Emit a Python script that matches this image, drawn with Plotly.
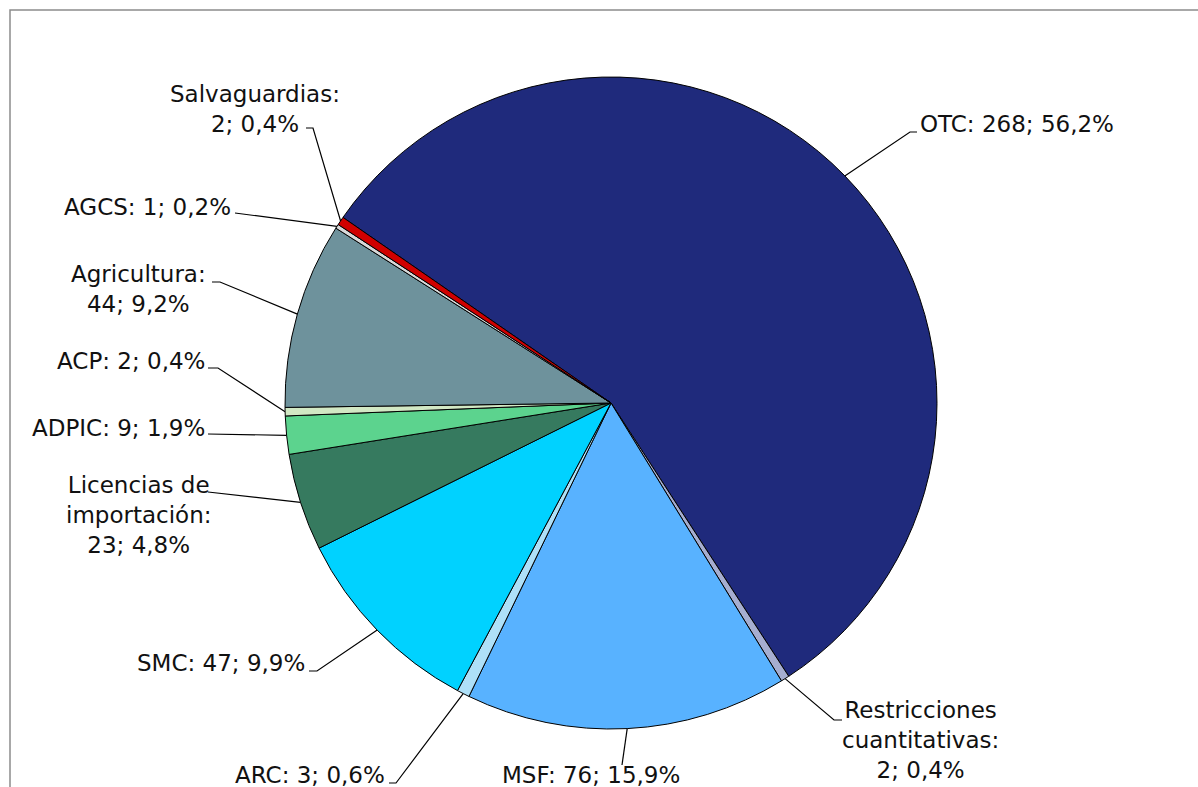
import math
import plotly.graph_objects as go

# ---- data ----
categories = ["OTC", "Restricciones cuantitativas", "MSF", "ARC", "SMC",
              "Licencias de importación", "ADPIC", "ACP", "Agricultura",
              "AGCS", "Salvaguardias"]
values = [268, 2, 76, 3, 47, 23, 9, 2, 44, 1, 2]
label_texts = ["OTC: 268; 56,2%",
               "Restricciones<br>cuantitativas:<br>2; 0,4%",
               "MSF: 76; 15,9%",
               "ARC: 3; 0,6%",
               "SMC: 47; 9,9%",
               "Licencias de<br>importación:<br>23; 4,8%",
               "ADPIC: 9; 1,9%",
               "ACP: 2; 0,4%",
               "Agricultura:<br>44; 9,2%",
               "AGCS: 1; 0,2%",
               "Salvaguardias:<br>2; 0,4%"]
colors = ["#1F2A7C", "#A6AED0", "#58B2FF", "#AEE0F8", "#00D2FF",
          "#367A5F", "#5CD38E", "#D2E8C4", "#6E929C", "#D9D9D9", "#D00000"]

# ---- layout (pixels) ----
W, H = 1198, 787
CX, CY, R = 611, 403, 326
ROT = -55.3
FONT = dict(family="DejaVu Sans, Verdana, sans-serif", size=23, color="#111111")

# label placement: text anchor (x, y, xanchor, align), leader elbow points
label_layout = [
    dict(tx=918, ty=124, xa="left", al="left", pts=[(910, 132), (917, 132)]),
    dict(tx=920, ty=740, xa="center", al="center", pts=[(834, 720), (842, 720)]),
    dict(tx=591, ty=775, xa="center", al="center", pts=[(622, 765)]),
    dict(tx=387, ty=775, xa="right", al="right", pts=[(396, 783), (389, 783)]),
    dict(tx=307, ty=663, xa="right", al="right", pts=[(317, 671), (309, 671)]),
    dict(tx=138, ty=515, xa="center", al="center", pts=[(208, 492)]),
    dict(tx=207, ty=428, xa="right", al="right", pts=[(208, 434)]),
    dict(tx=207, ty=361, xa="right", al="right", pts=[(218, 368), (208, 368)]),
    dict(tx=138, ty=289, xa="center", al="center", pts=[(220, 282), (212, 282)]),
    dict(tx=233, ty=207, xa="right", al="right", pts=[(235, 213)]),
    dict(tx=255, ty=109, xa="center", al="center", pts=[(313, 128), (306, 128)]),
]

fig = go.Figure()
fig.add_trace(go.Pie(
    labels=categories, values=values, sort=False, direction="clockwise",
    rotation=ROT, textinfo="none", hoverinfo="label+value+percent",
    marker=dict(colors=colors, line=dict(color="#000000", width=1)),
    domain=dict(x=[(CX - R) / W, (CX + R) / W],
                y=[(H - CY - R) / H, (H - CY + R) / H]),
    showlegend=False,
))
# invisible pixel-space axes for leader lines and labels
fig.add_trace(go.Scatter(x=[0, W], y=[0, H], mode="markers",
                         marker=dict(opacity=0), hoverinfo="skip", showlegend=False))

shapes = []
annotations = []
total = sum(values)
cum = 0.0
for v, txt, lay in zip(values, label_texts, label_layout):
    mid = ROT + 360.0 * (cum + v / 2.0) / total
    cum += v
    a = math.radians(mid)
    ex, ey = CX + R * math.sin(a), CY - R * math.cos(a)
    path = "M %.1f,%.1f" % (ex, ey)
    for (px, py) in lay["pts"]:
        path += " L %.1f,%.1f" % (px, py)
    shapes.append(dict(type="path", path=path, xref="x", yref="y",
                       line=dict(color="#000000", width=1.2), layer="above"))
    annotations.append(dict(x=lay["tx"], y=lay["ty"], xref="x", yref="y",
                            text=txt, showarrow=False, xanchor=lay["xa"],
                            yanchor="middle", align=lay["al"], font=FONT))

# chart area frame (extends past right/bottom edges)
shapes.append(dict(type="rect", xref="x", yref="y", x0=10, y0=10, x1=1230, y1=820,
                   line=dict(color="#8C8C8C", width=1.5), layer="below"))

fig.update_layout(
    width=W, height=H, margin=dict(l=0, r=0, t=0, b=0),
    paper_bgcolor="white", plot_bgcolor="rgba(0,0,0,0)",
    xaxis=dict(range=[0, W], visible=False, fixedrange=True, domain=[0, 1]),
    yaxis=dict(range=[H, 0], visible=False, fixedrange=True, domain=[0, 1]),
    shapes=shapes, annotations=annotations, showlegend=False,
)

fig.write_html("out.html", config={"displayModeBar": False},
               post_script="document.body.style.margin='0';document.body.style.overflow='hidden';")
